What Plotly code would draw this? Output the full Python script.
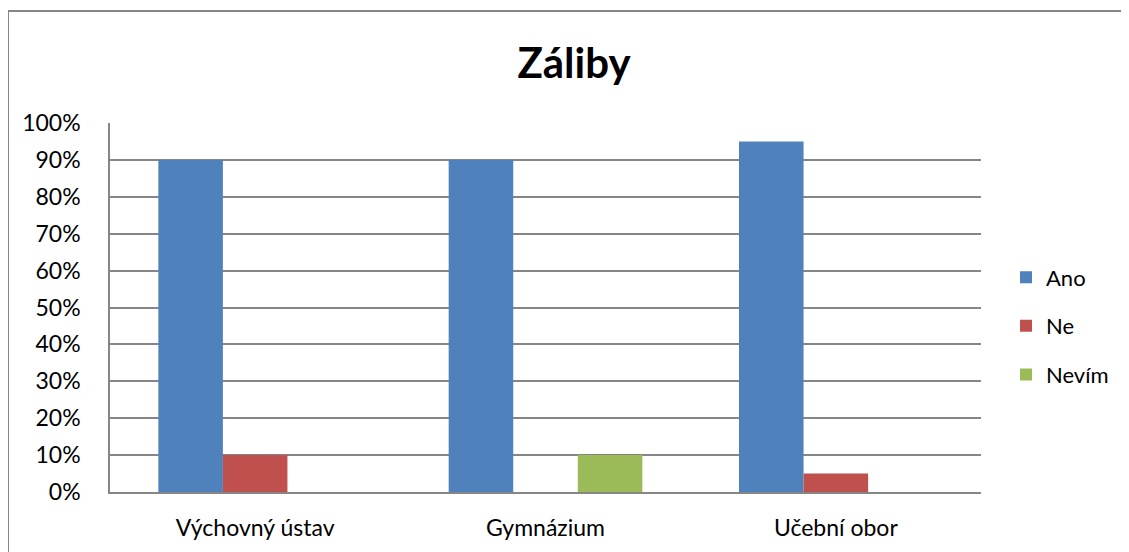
import plotly.graph_objects as go

categories = ["Výchovný ústav", "Gymnázium", "Učební obor"]
ano = [0.90, 0.90, 0.95]
ne = [0.10, 0.0, 0.05]
nevim = [0.0, 0.10, 0.0]
series_names = ["Ano", "Ne", "Nevím"]
colors = ["#4F81BD", "#C0504D", "#9BBB59"]

FONT = "Lato"

fig = go.Figure()
for i, (name, vals) in enumerate(zip(series_names, [ano, ne, nevim])):
    fig.add_trace(go.Bar(
        x=categories, y=vals, name=name,
        marker=dict(color=colors[i], line=dict(width=0)),
        legendgroup=name,
    ))

# page body has an 8px margin; figure is placed at (8, 8)
OFF = 8
W, H = 1129 - OFF, 552 - OFF
ml, mt = 110 - OFF, 123 - OFF
pw, ph = 871, 369
mr = 10
mb = H - mt - ph
aw = W - ml - mr  # paper width
dom = pw / aw

fig.update_layout(
    width=W, height=H,
    margin=dict(l=ml, r=mr, t=mt, b=mb, autoexpand=False),
    paper_bgcolor="white", plot_bgcolor="white",
    barmode="group", bargap=0.333, bargroupgap=0,
    font=dict(family=FONT, size=22, color="black"),
    title=dict(text="<b>Záliby</b>", xref="container", x=(574 - OFF) / W,
               xanchor="center",
               y=1 - (63 - OFF) / H, yanchor="middle",
               font=dict(family=FONT, size=42, color="black")),
    showlegend=True,
    legend=dict(x=(1006 - OFF - ml) / aw, xanchor="left", y=0.45, yanchor="middle",
                font=dict(family=FONT, size=22), tracegroupgap=17,
                itemwidth=30, bgcolor="rgba(0,0,0,0)"),
    xaxis=dict(domain=[0, dom], showgrid=False, showline=True,
               linecolor="#868686", linewidth=2,
               ticks="", ticklabelstandoff=14,
               tickfont=dict(family=FONT, size=23)),
    yaxis=dict(range=[0, 1], dtick=0.1, tickformat=".0%",
               showgrid=True, gridcolor="#868686", gridwidth=1.5,
               showline=True, linecolor="#868686", linewidth=1.5,
               ticks="", ticklabelstandoff=23, zeroline=False,
               tickfont=dict(family=FONT, size=23)),
)

# outer chart border
fig.add_shape(type="rect", xref="paper", yref="paper",
              x0=(0 - ml) / aw, x1=(W + 10 - ml) / aw,
              y0=-(mb + 10) / ph, y1=1 + (mt - 3) / ph,
              line=dict(color="#868686", width=2), fillcolor="rgba(0,0,0,0)",
              layer="below")

fig.write_html("out.html")
